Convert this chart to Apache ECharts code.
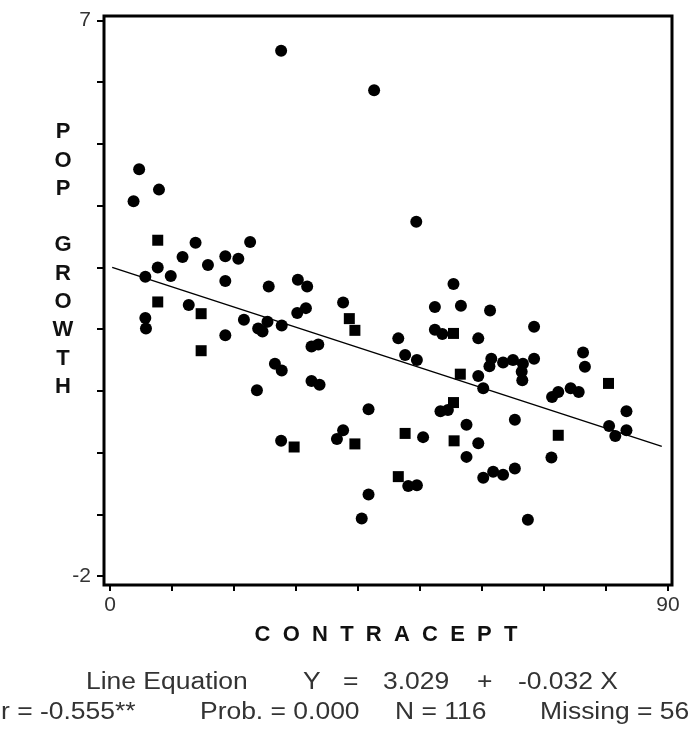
<!DOCTYPE html>
<html>
<head>
    <meta charset="UTF-8">
    <title>POP GROWTH vs CONTRACEPT</title>
    <style type="text/css">
        html, body {
            margin: 0;
            padding: 0;
            background: #fff;
        }
        #chart {
            width: 689px;
            height: 730px;
        }
    </style>
    <script type="text/javascript" src="https://cdn.jsdelivr.net/npm/echarts@6.0.0/dist/echarts.min.js"></script>
</head>
<body>
<div id="chart"></div>
<script>
    // round markers
    let dotX = [27.6, 42.6, 4.7, 3.8, 7.9, 49.4, 13.8, 22.6, 11.7, 18.6, 20.7, 15.8, 7.7, 5.7, 9.8, 18.6, 25.6, 30.3, 31.8, 12.7,
        5.7, 5.8, 21.6, 23.9, 24.6, 25.4, 27.7, 30.2, 31.6, 18.6, 37.6, 32.5, 33.6, 26.6, 27.7, 23.7, 32.5, 33.8, 41.7, 27.6,
        36.6, 37.6, 41.7, 40.6, 46.5, 47.6, 49.5, 50.5, 48.1, 49.5, 52.4, 55.4, 56.6, 52.4, 53.6, 61.3, 59.4, 68.4, 59.4, 60.2,
        53.3, 54.5, 57.5, 59.4, 57.5, 60.2, 61.8, 63.4, 65.3, 65.3, 67.4, 61.5, 63.4, 65.0, 66.6, 68.4, 61.2, 66.4, 66.5, 76.3,
        76.6, 71.3, 72.3, 74.3, 75.6, 83.3, 80.5, 81.5, 83.3, 71.2];
    let dotY = [6.51, 5.87, 4.59, 4.07, 4.26, 3.74, 3.40, 3.41, 3.17, 3.18, 3.14, 3.04, 3.00, 2.85, 2.86, 2.78, 2.69, 2.80, 2.69, 2.39,
        2.18, 2.01, 2.15, 2.01, 1.96, 2.12, 2.06, 2.26, 2.34, 1.90, 2.43, 1.72, 1.75, 1.44, 1.33, 1.01, 1.16, 1.10, 0.70, 0.19,
        0.22, 0.36, -0.68, -1.07, 1.85, 1.58, 1.50, 0.25, -0.54, -0.53, 2.36, 2.73, 2.38, 1.99, 1.92, 2.30, 1.85, 2.04, 1.24, 1.04,
        0.67, 0.69, 0.45, 0.15, -0.07, -0.41, -0.31, -0.36, -0.26, 0.53, -1.09, 1.52, 1.46, 1.50, 1.44, 1.52, 1.40, 1.31, 1.17, 1.62,
        1.39, 0.90, 0.98, 1.04, 0.98, 0.67, 0.43, 0.27, 0.36, -0.08];
    // square-looking markers
    let boxX = [7.7, 7.7, 14.7, 14.7, 29.7, 38.6, 39.5, 39.5, 46.5, 47.6, 55.4, 55.5, 56.5, 72.3, 80.4, 55.4];
    let boxY = [3.44, 2.44, 2.25, 1.65, 0.09, 2.17, 1.98, 0.14, -0.39, 0.31, 1.93, 0.19, 1.27, 0.28, 1.12, 0.81];
    // fitted line ends as drawn
    let fitX = [0.35, 89.0];
    let fitY = [3.0, 0.10];

    let yLabels = [7, -2];
    let xLabels = [0, 90];

    function pairs(xs, ys) {
        let out = [];
        for (let i = 0; i < xs.length; i++) {
            out.push([xs[i], ys[i]]);
        }
        return out;
    }

    let labelFont = {
        fontFamily: 'Liberation Sans, Arial, sans-serif',
        fontSize: 21,
        color: '#333'
    };

    function statText(text, x, y) {
        return {
            type: 'text',
            x: x,
            y: y,
            scaleX: 1.15,
            style: {
                text: text,
                x: 0,
                y: 0,
                fill: '#333',
                font: '23px "Liberation Sans", Arial, sans-serif',
                textAlign: 'left',
                textVerticalAlign: 'middle'
            }
        };
    }

    let myChart = echarts.init(document.getElementById('chart'));

    let option = {
        animation: false,
        grid: [
            {left: 110, right: 21, top: 20.5, bottom: 154},
            {left: 104, right: 17, top: 16, bottom: 145, show: true, borderColor: '#000', borderWidth: 3, backgroundColor: 'transparent'}
        ],
        xAxis: [
            {
                type: 'value',
                gridIndex: 0,
                min: 0,
                max: 90,
                interval: 10,
                offset: 9,
                splitLine: {show: false},
                axisLine: {show: false, onZero: false},
                axisTick: {show: true, inside: false, length: 6, lineStyle: {color: '#000', width: 2}},
                axisLabel: Object.assign({
                    margin: 10,
                    formatter: function (v) {
                        return xLabels.indexOf(v) >= 0 ? String(v) : '';
                    }
                }, labelFont)
            },
            {type: 'value', gridIndex: 1, show: false, min: 0, max: 1}
        ],
        yAxis: [
            {
                type: 'value',
                gridIndex: 0,
                min: -2,
                max: 7,
                interval: 1,
                offset: 6,
                splitLine: {show: false},
                axisLine: {show: false, onZero: false},
                axisTick: {show: true, inside: false, length: 7, lineStyle: {color: '#000', width: 2}},
                axisLabel: Object.assign({
                    margin: 13,
                    formatter: function (v) {
                        return yLabels.indexOf(v) >= 0 ? String(v) : '';
                    }
                }, labelFont)
            },
            {type: 'value', gridIndex: 1, show: false, min: 0, max: 1}
        ],
        graphic: [
            {
                type: 'text',
                x: 63,
                y: 118,
                style: {
                    text: 'P\nO\nP\n\nG\nR\nO\nW\nT\nH',
                    x: 0,
                    y: 0,
                    fill: '#111',
                    font: 'bold 22px "Liberation Sans", Arial, sans-serif',
                    lineHeight: 28.3,
                    textAlign: 'center',
                    textVerticalAlign: 'top'
                }
            },
            {
                type: 'text',
                x: 386,
                y: 635,
                style: {
                    text: 'C  O  N  T  R  A  C  E  P  T',
                    x: 0,
                    y: 0,
                    fill: '#111',
                    font: 'bold 22px "Liberation Sans", Arial, sans-serif',
                    textAlign: 'center',
                    textVerticalAlign: 'middle'
                }
            },
            statText('Line Equation', 86, 683),
            statText('Y', 303, 683),
            statText('=', 343, 683),
            statText('3.029', 383, 683),
            statText('+', 477, 683),
            statText('-0.032 X', 518, 683),
            statText('r = -0.555**', 1, 713),
            statText('Prob. = 0.000', 200, 713),
            statText('N = 116', 395, 713),
            statText('Missing = 56', 540, 713)
        ],
        series: [
            {
                type: 'line',
                xAxisIndex: 0,
                yAxisIndex: 0,
                data: pairs(fitX, fitY),
                symbol: 'none',
                lineStyle: {color: '#000', width: 1.5}
            },
            {
                type: 'scatter',
                xAxisIndex: 0,
                yAxisIndex: 0,
                data: pairs(dotX, dotY),
                symbol: 'circle',
                symbolSize: 12,
                itemStyle: {color: '#000', opacity: 1}
            },
            {
                type: 'scatter',
                xAxisIndex: 0,
                yAxisIndex: 0,
                data: pairs(boxX, boxY),
                symbol: 'rect',
                symbolSize: 11,
                itemStyle: {color: '#000', opacity: 1}
            }
        ]
    };

    myChart.setOption(option);
</script>
</body>
</html>
